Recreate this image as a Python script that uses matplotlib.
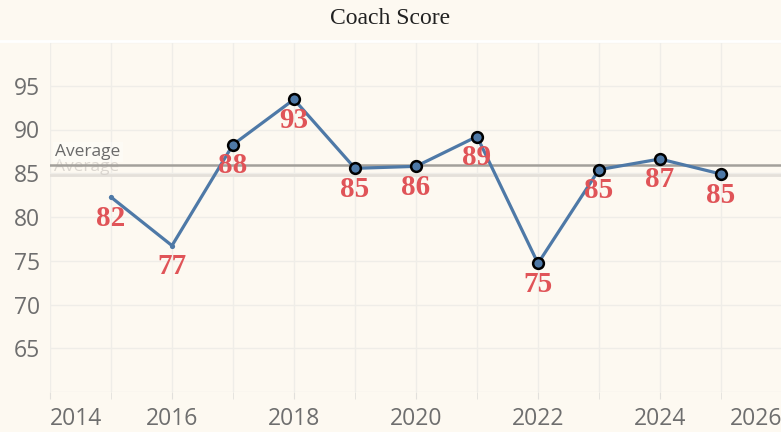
import matplotlib
matplotlib.use("Agg")
import matplotlib.pyplot as plt
import numpy as np

years = [2015, 2016, 2017, 2018, 2019, 2020, 2021, 2022, 2023, 2024, 2025]
scores = [82.27, 76.73, 88.27, 93.44, 85.56, 85.79, 89.2, 74.7, 85.41, 86.63, 84.91]
labels = ["82", "77", "88", "93", "85", "86", "89", "75", "85", "87", "85"]
marked = [False, False, True, True, True, True, True, True, True, True, True]
yticks = [65, 70, 75, 80, 85, 90, 95]
xticks = [2014, 2016, 2018, 2020, 2022, 2024, 2026]

bg = "#fdf9f1"
grid_c = "#efede8"
line_c = "#4e79a7"
lab_c = "#e05458"
tick_c = "#6e6e6e"

fig = plt.figure(figsize=(7.81, 4.32), dpi=100, facecolor=bg)
ax = fig.add_axes([50 / 781, 1 - 392 / 432, 732 / 781, 350 / 432])
ax.set_facecolor(bg)

# separator under title
fig.add_artist(plt.Line2D([0, 1], [1 - 40.5 / 432, 1 - 40.5 / 432], color="white", lw=2))
fig.text(0.5, 1 - 18 / 432, "Coach Score", ha="center", va="center",
         family="Liberation Serif", fontsize=17, color="#222222")

ax.set_xlim(2014, 2026)
ax.set_ylim(60, 100)

for x in range(2014, 2027):
    ax.axvline(x, color=grid_c, lw=1, zorder=0)
for y in [60] + yticks + [100]:
    ax.axhline(y, color=grid_c, lw=1, zorder=0)

for s in ax.spines.values():
    s.set_visible(False)

avg_all = np.mean(scores)
avg_marked = np.mean([s for s, m in zip(scores, marked) if m])
ax.axhline(avg_all, color="#e4e0da", lw=2, zorder=1)
ax.axhline(avg_marked, color="#a3a09b", lw=1.8, zorder=2)

ax.plot(years, scores, color=line_c, lw=2.3, zorder=3, solid_joinstyle="round")
my = [y for y, m in zip(years, marked) if m]
ms = [s for s, m in zip(scores, marked) if m]
uy = [y for y, m in zip(years, marked) if not m]
us = [s for s, m in zip(scores, marked) if not m]
ax.scatter(uy, us, s=14, color=line_c, zorder=4, linewidths=0)
ax.scatter(my, ms, s=60, color=line_c, edgecolors="black", linewidths=1.8, zorder=5)

for x, y, t in zip(years, scores, labels):
    ax.annotate(t, (x, y), xytext=(0, -21), textcoords="offset pixels",
                ha="center", va="center", family="Liberation Serif", fontweight="bold",
                fontsize=21, color=lab_c, zorder=6)

ax.text(2014.09, avg_marked + 0.55, "Average", ha="left", va="bottom", family="Open Sans",
        fontsize=12.5, color="#6a6a6a", zorder=7,
        bbox=dict(boxstyle="square,pad=0.12", fc="white", ec="none", alpha=0.35))
ax.text(2014.07, avg_marked - 0.25, "Average", ha="left", va="center", family="Open Sans",
        fontsize=12.5, color="#d3cec8", alpha=0.8, zorder=1.5)

ax.set_yticks(yticks)
ax.set_yticklabels([str(v) for v in yticks], family="Open Sans", fontsize=16.5, color=tick_c)
ax.tick_params(axis="y", length=0, pad=7)
ax.set_xticks(xticks)
xl = ax.set_xticklabels([str(v) for v in xticks], family="Open Sans", fontsize=16.5, color=tick_c)
xl[0].set_ha("left")
xl[-1].set_ha("right")
ax.tick_params(axis="x", length=5, color="#e2e0dc", pad=6)
ax.set_xticks(range(2015, 2026), minor=True)
ax.tick_params(axis="x", which="minor", length=5, color="#e2e0dc")

fig.savefig("out.png", dpi=100, facecolor=bg)
